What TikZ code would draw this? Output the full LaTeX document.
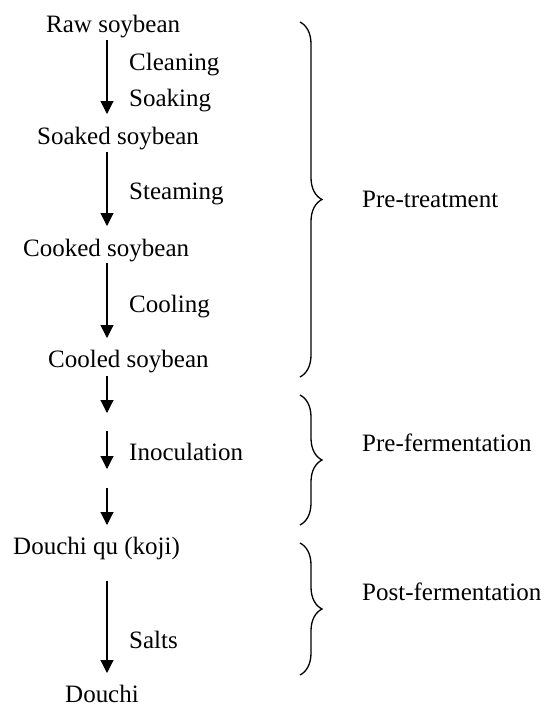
\documentclass[tikz,border=0pt]{standalone}
\usepackage{fontspec}
\setmainfont{Liberation Serif}
\usetikzlibrary{arrows.meta,decorations.pathreplacing}
\begin{document}
\begin{tikzpicture}[x=1pt,y=-1pt,
  lbl/.style={anchor=base west,inner sep=0pt,font=\fontsize{25}{30}\selectfont},
  arr/.style={-{Triangle[length=13pt,width=13pt]},line width=1.1pt},
  brc/.style={decorate,decoration={brace,amplitude=22pt},line width=1.3pt}]
\useasboundingbox (0,0) rectangle (544,705);
% stage texts
\node[lbl] (raw) at (46,32) {Raw soybean};
\node[lbl] (cleaning) at (129,70) {Cleaning};
\node[lbl] (soaking) at (129,106) {Soaking};
\node[lbl] (soaked) at (37,144) {Soaked soybean};
\node[lbl] (steaming) at (129,199) {Steaming};
\node[lbl] (cooked) at (23,256) {Cooked soybean};
\node[lbl] (cooling) at (129,312) {Cooling};
\node[lbl] (cooled) at (48,367) {Cooled soybean};
\node[lbl] (inoc) at (129,460) {Inoculation};
\node[lbl] (koji) at (13,554) {Douchi qu (koji)};
\node[lbl] (salts) at (129,648) {Salts};
\node[lbl] (douchi) at (65,702) {Douchi};
% phase texts
\node[lbl] (pretreat) at (362,207) {Pre-treatment};
\node[lbl] (prefer) at (362,451) {Pre-fermentation};
\node[lbl] (postfer) at (362,600) {Post-fermentation};
% arrow ends
\coordinate (a1s) at (107,40);  \coordinate (a1e) at (107,114);
\coordinate (a2s) at (107,152); \coordinate (a2e) at (107,226);
\coordinate (a3s) at (107,263); \coordinate (a3e) at (107,338);
\coordinate (a4s) at (107,376); \coordinate (a4e) at (107,413);
\coordinate (a5s) at (107,431); \coordinate (a5e) at (107,469);
\coordinate (a6s) at (107,488); \coordinate (a6e) at (107,525);
\coordinate (a7s) at (107,581); \coordinate (a7e) at (107,673);
\foreach \i in {1,...,7} \draw[arr] (a\i s) -- (a\i e);
% braces
\coordinate (b1s) at (300,22);  \coordinate (b1e) at (300,377);
\coordinate (b2s) at (300,395); \coordinate (b2e) at (300,525);
\coordinate (b3s) at (300,543); \coordinate (b3e) at (300,675);
\foreach \i in {1,2,3} \draw[brc] (b\i s) -- (b\i e);
\end{tikzpicture}
\end{document}
